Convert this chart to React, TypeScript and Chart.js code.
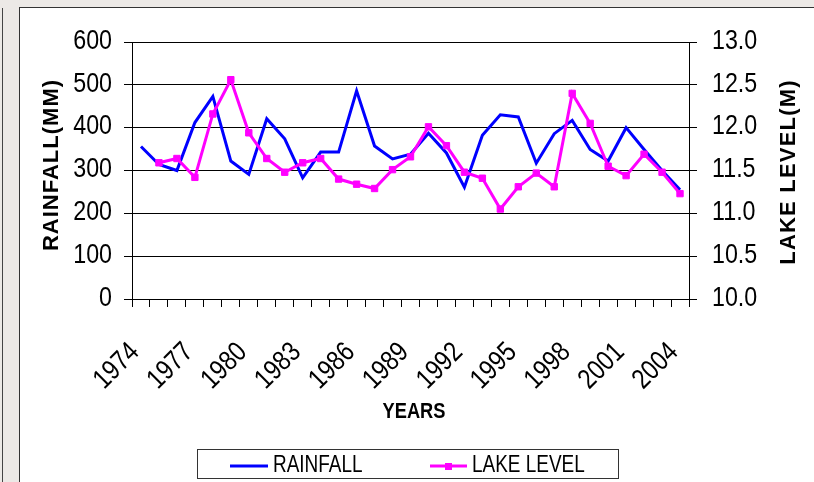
import { useEffect, useRef } from 'react';
import { Chart, registerables } from 'chart.js';

Chart.register(...registerables);

const YEARS = [
  '1974', '1975', '1976', '1977', '1978', '1979', '1980', '1981', '1982', '1983',
  '1984', '1985', '1986', '1987', '1988', '1989', '1990', '1991', '1992', '1993',
  '1994', '1995', '1996', '1997', '1998', '1999', '2000', '2001', '2002', '2003', '2004',
];

const RAINFALL = [
  356, 314, 300, 412, 473, 322, 291, 421, 374, 283,
  343, 343, 486, 357, 327, 338, 387, 341, 261, 382,
  430, 425, 317, 386, 417, 349, 322, 400, 349, 300, 255,
];

const LAKE_LEVEL: (number | null)[] = [
  null, 11.59, 11.64, 11.42, 12.16, 12.56, 11.94, 11.64, 11.48, 11.59,
  11.64, 11.40, 11.34, 11.29, 11.51, 11.66, 12.01, 11.79, 11.48, 11.41,
  11.05, 11.31, 11.47, 11.31, 12.40, 12.05, 11.55, 11.44, 11.69, 11.48, 11.23,
];

const LABEL_EVERY = 3;

const SANS = '"Liberation Sans", Arial, sans-serif';
const NARROW_X = 0.83;

const BLUE = '#0000FF';
const PINK = '#FF00FF';
const CLEAR = 'rgba(0,0,0,0)';

function drawNarrow(
  ctx: CanvasRenderingContext2D,
  text: string,
  x: number,
  y: number,
  font: string,
  align: CanvasTextAlign,
  baseline: CanvasTextBaseline,
  sx: number,
  angle = 0,
) {
  ctx.save();
  ctx.translate(x, y);
  if (angle) ctx.rotate(angle);
  ctx.scale(sx, 1);
  ctx.font = font;
  ctx.textAlign = align;
  ctx.textBaseline = baseline;
  ctx.fillText(text, 0, 0);
  ctx.restore();
}

const decorPlugin = {
  id: 'decor',
  afterDraw(chart: any) {
    const ctx = chart.ctx as CanvasRenderingContext2D;
    ctx.save();
    ctx.fillStyle = '#000';

    const tickFont = `28px ${SANS}`;

    // X tick labels (every third year)
    const xs = chart.scales.x;
    xs.ticks.forEach((_t: any, i: number) => {
      if (i % LABEL_EVERY !== 0) return;
      const px = xs.getPixelForTick(i);
      drawNarrow(ctx, YEARS[i], px - 6, 348, tickFont, 'right', 'middle', NARROW_X, -Math.PI / 4);
    });

    // Left tick labels
    const ys = chart.scales.y;
    ys.ticks.forEach((t: any, i: number) => {
      const py = ys.getPixelForTick(i);
      drawNarrow(ctx, String(t.value), 112, py - 1, tickFont, 'right', 'middle', NARROW_X);
    });

    // Right tick labels
    const y1 = chart.scales.y1;
    y1.ticks.forEach((t: any, i: number) => {
      const py = y1.getPixelForTick(i);
      drawNarrow(ctx, Number(t.value).toFixed(1), 712, py - 1, tickFont, 'left', 'middle', NARROW_X);
    });

    // Left axis title
    ctx.textAlign = 'center';
    ctx.textBaseline = 'middle';
    ctx.font = `bold 22px ${SANS}`;
    (ctx as any).letterSpacing = '1px';
    ctx.save();
    ctx.translate(52, 165);
    ctx.rotate(-Math.PI / 2);
    ctx.fillText('RAINFALL(MM)', 0, 0);
    ctx.restore();

    // Right axis title
    (ctx as any).letterSpacing = '1.2px';
    ctx.save();
    ctx.translate(789, 172);
    ctx.rotate(-Math.PI / 2);
    ctx.fillText('LAKE LEVEL(M)', 0, 0);
    ctx.restore();
    (ctx as any).letterSpacing = '0px';

    // X axis title
    drawNarrow(ctx, 'YEARS', 414, 412, `bold 22px ${SANS}`, 'center', 'middle', NARROW_X);

    // Legend
    ctx.strokeStyle = '#333';
    ctx.lineWidth = 1;
    ctx.strokeRect(197.5, 449.5, 421, 29);

    ctx.lineWidth = 3;
    ctx.strokeStyle = BLUE;
    ctx.beginPath();
    ctx.moveTo(230, 466);
    ctx.lineTo(268, 466);
    ctx.stroke();

    ctx.strokeStyle = PINK;
    ctx.beginPath();
    ctx.moveTo(430, 466);
    ctx.lineTo(467, 466);
    ctx.stroke();
    ctx.fillStyle = PINK;
    ctx.fillRect(445, 463, 7, 7);

    ctx.fillStyle = '#000';
    drawNarrow(ctx, 'RAINFALL', 273, 472, `24px ${SANS}`, 'left', 'alphabetic', 0.79);
    drawNarrow(ctx, 'LAKE LEVEL', 472, 472, `24px ${SANS}`, 'left', 'alphabetic', 0.79);

    ctx.restore();
  },
};

export default function App() {
  const ref = useRef<HTMLCanvasElement | null>(null);

  useEffect(() => {
    if (!ref.current) return;
    const chart = new Chart(ref.current, {
      type: 'line',
      data: {
        labels: YEARS,
        datasets: [
          {
            label: 'RAINFALL',
            data: RAINFALL,
            borderColor: BLUE,
            backgroundColor: BLUE,
            borderWidth: 3,
            pointRadius: 0,
            tension: 0,
            yAxisID: 'y',
            order: 1,
          },
          {
            label: 'LAKE LEVEL',
            data: LAKE_LEVEL,
            borderColor: PINK,
            backgroundColor: PINK,
            borderWidth: 3,
            pointStyle: 'rect',
            pointRadius: 4.5,
            pointBorderWidth: 1,
            pointBackgroundColor: PINK,
            pointBorderColor: PINK,
            tension: 0,
            spanGaps: false,
            yAxisID: 'y1',
            order: 0,
          },
        ],
      },
      options: {
        responsive: false,
        animation: false,
        devicePixelRatio: 1,
        layout: { padding: { top: 42, left: 0, right: 0, bottom: 0 } },
        plugins: {
          legend: { display: false },
          tooltip: { enabled: false },
        },
        scales: {
          x: {
            type: 'category',
            offset: true,
            grid: {
              offset: true,
              drawOnChartArea: false,
              drawTicks: true,
              tickLength: 8,
              color: '#000',
              lineWidth: 1,
            },
            border: { color: '#000', width: 1 },
            ticks: {
              autoSkip: false,
              maxRotation: 45,
              minRotation: 45,
              color: CLEAR,
              font: { family: SANS, size: 12 },
              callback: (_v: any, i: number) => (i % LABEL_EVERY === 0 ? YEARS[i] : ''),
            },
            afterFit: (s: any) => {
              s.height = 183;
            },
          },
          y: {
            position: 'left',
            min: 0,
            max: 600,
            grid: { color: '#000', lineWidth: 1, tickLength: 8 },
            border: { color: '#000', width: 1 },
            ticks: {
              stepSize: 100,
              color: CLEAR,
              font: { family: SANS, size: 12 },
            },
            afterFit: (s: any) => {
              s.width = 132;
            },
          },
          y1: {
            position: 'right',
            min: 10,
            max: 13,
            grid: { drawOnChartArea: false, color: '#000', lineWidth: 1, tickLength: 8 },
            border: { color: '#000', width: 1 },
            ticks: {
              stepSize: 0.5,
              color: CLEAR,
              font: { family: SANS, size: 12 },
            },
            afterFit: (s: any) => {
              s.width = 125;
            },
          },
        },
      },
      plugins: [decorPlugin],
    });
    return () => chart.destroy();
  }, []);

  return (
    <div style={{ position: 'fixed', left: 0, top: 0, width: 814, height: 482, background: '#ECE9E6', overflow: 'hidden' }}>
      <div style={{ position: 'absolute', left: 2, top: 8, width: 1, height: 474, background: '#444' }} />
      <div
        style={{
          position: 'absolute',
          left: 19,
          top: 7,
          width: 795,
          height: 475,
          background: '#fff',
          borderLeft: '1px solid #333',
          borderTop: '1px solid #333',
        }}
      />
      <canvas ref={ref} width={814} height={482} style={{ position: 'absolute', left: 0, top: 0 }} />
    </div>
  );
}
